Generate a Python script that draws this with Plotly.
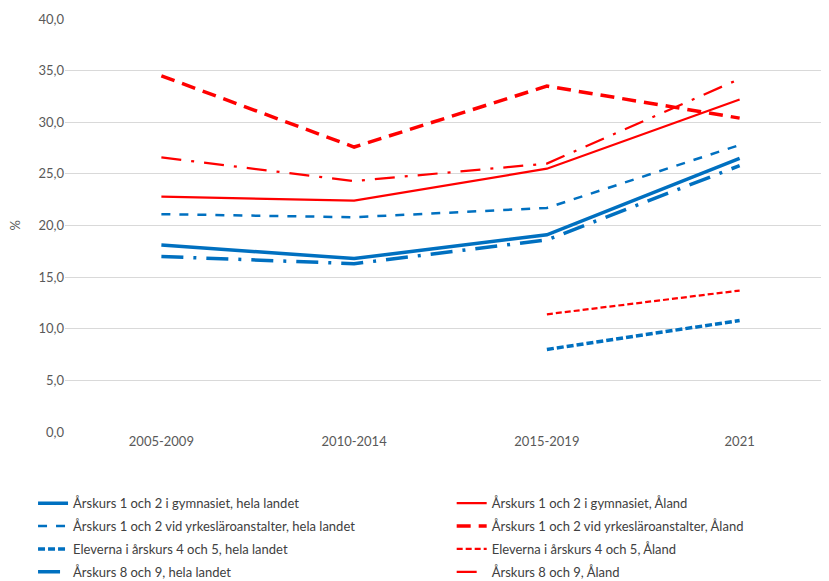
import plotly.graph_objects as go

periods = ['2005-2009', '2010-2014', '2015-2019', '2021']

gym_hela = [18.1, 16.8, 19.1, 26.5]
gym_aland = [22.8, 22.4, 25.5, 32.2]
yrkes_hela = [21.1, 20.8, 21.7, 27.8]
yrkes_aland = [34.5, 27.6, 33.5, 30.4]
elev45_hela = [None, None, 8.0, 10.8]
elev45_aland = [None, None, 11.4, 13.7]
ak89_hela = [17.0, 16.3, 18.6, 25.8]
ak89_aland = [26.6, 24.3, 26.0, 34.2]

BLUE = '#0070C0'
RED = '#FF0000'

# (name, values, colour, width, dash, which legend column)
series = [
    ('Årskurs 1 och 2 i gymnasiet, hela landet', gym_hela, BLUE, 3.5, 'solid', 'legend'),
    ('Årskurs 1 och 2 vid yrkesläroanstalter, hela landet', yrkes_hela, BLUE, 2.5, '9px,9px', 'legend'),
    ('Eleverna i årskurs 4 och 5, hela landet', elev45_hela, BLUE, 3.5, '7px,3px', 'legend'),
    ('Årskurs 8 och 9, hela landet', ak89_hela, BLUE, 3.5, '22px,10px,3px,10px', 'legend'),
    ('Årskurs 1 och 2 i gymnasiet, Åland', gym_aland, RED, 2.25, 'solid', 'legend2'),
    ('Årskurs 1 och 2 vid yrkesläroanstalter, Åland', yrkes_aland, RED, 3.5, '14px,8px', 'legend2'),
    ('Eleverna i årskurs 4 och 5, Åland', elev45_aland, RED, 2.25, '6px,3px', 'legend2'),
    ('Årskurs 8 och 9, Åland', ak89_aland, RED, 2.25, '20px,10px,3px,10px', 'legend2'),
]

fig = go.Figure()
for i, (name, vals, color, width, dash, leg) in enumerate(series):
    fig.add_trace(go.Scatter(
        x=periods, y=vals, name=name, mode='lines',
        line=dict(color=color, width=width, dash=dash),
        connectgaps=False, legend=leg, legendgroup=f'g{i}'
    ))

legend_style = dict(
    orientation='v', xref='container', yref='container',
    yanchor='top', xanchor='left',
    font=dict(size=13, color='#404040'),
    itemwidth=30, tracegroupgap=3, bgcolor='rgba(0,0,0,0)'
)

fig.update_layout(
    width=829, height=581,
    margin=dict(l=57, r=1, t=11, b=157, autoexpand=False),
    plot_bgcolor='white', paper_bgcolor='white',
    font=dict(family='Lato, Carlito, Calibri, sans-serif', size=13, color='#595959'),
    separators=',.',
    showlegend=True,
    legend=dict(x=0.0302, y=0.1735, **legend_style),
    legend2=dict(x=0.5352, y=0.1735, **legend_style),
)
fig.update_xaxes(
    type='category', range=[-0.5, 3.5],
    showgrid=False, showline=False, ticks='',
    tickfont=dict(size=13, color='#595959')
)
fig.update_yaxes(
    range=[0, 40], dtick=5, tickformat='.1f',
    showgrid=True, gridcolor='#D9D9D9', gridwidth=1,
    zeroline=False, showline=False,
    tickfont=dict(size=13, color='#595959')
)
# y axis unit label
fig.add_annotation(
    text='%', xref='paper', yref='paper', x=-0.079, y=0.5,
    showarrow=False, textangle=-90, font=dict(size=13, color='#595959')
)

fig.write_html("out.html")
